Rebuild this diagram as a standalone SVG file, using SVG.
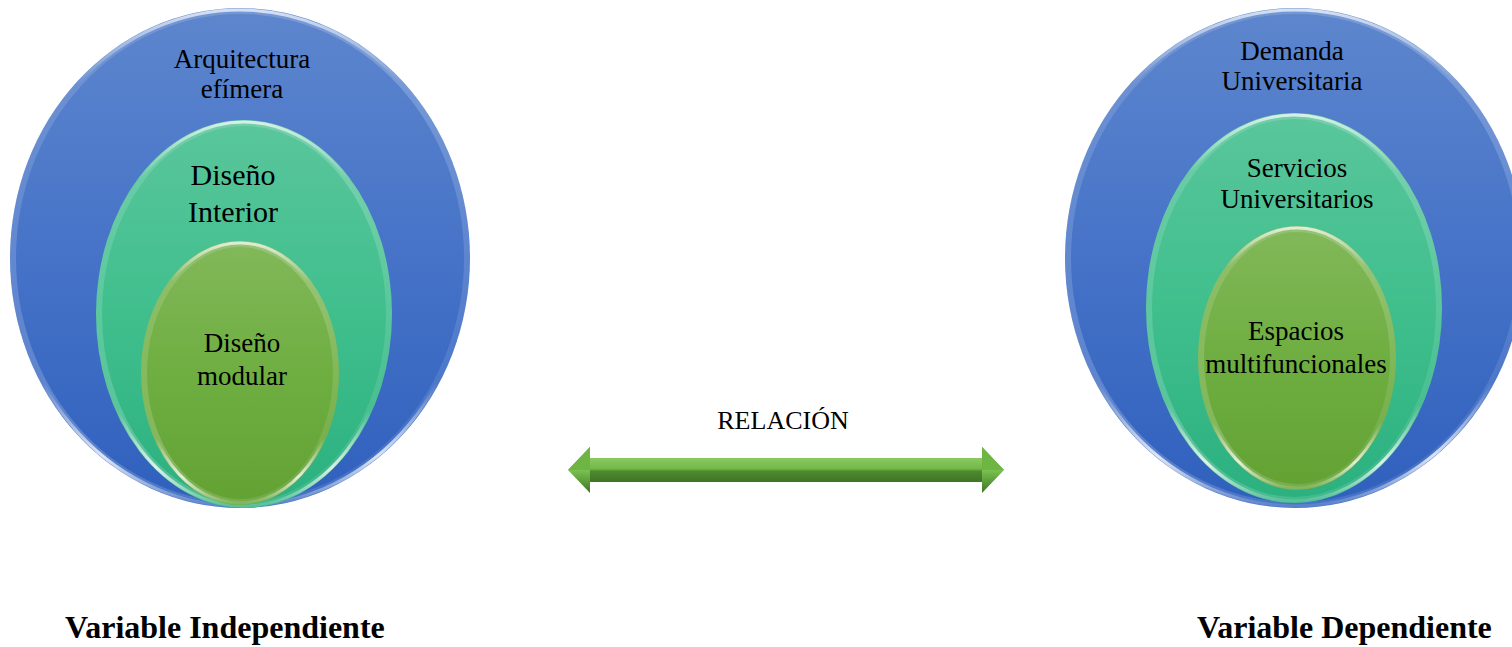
<svg xmlns="http://www.w3.org/2000/svg" width="1512" height="647" viewBox="0 0 1512 647">
  <defs>
    <linearGradient id="gBlue" x1="0" y1="0" x2="0" y2="1">
      <stop offset="0" stop-color="#5d86cd"/>
      <stop offset="0.5" stop-color="#4673c8"/>
      <stop offset="1" stop-color="#2f60bd"/>
    </linearGradient>
    <linearGradient id="gTeal" x1="0" y1="0" x2="0" y2="1">
      <stop offset="0" stop-color="#5ac69c"/>
      <stop offset="0.5" stop-color="#40bf8d"/>
      <stop offset="1" stop-color="#2bb07f"/>
    </linearGradient>
    <linearGradient id="gGreen" x1="0" y1="0" x2="0" y2="1">
      <stop offset="0" stop-color="#82b85a"/>
      <stop offset="0.5" stop-color="#6fae41"/>
      <stop offset="1" stop-color="#62a132"/>
    </linearGradient>
    <linearGradient id="rim" x1="0" y1="0" x2="1" y2="1">
      <stop offset="0" stop-color="#ffffff" stop-opacity="0.1"/>
      <stop offset="0.5" stop-color="#ffffff" stop-opacity="0.2"/>
      <stop offset="1" stop-color="#ffffff" stop-opacity="0.05"/>
    </linearGradient>
    <linearGradient id="rimTop" x1="0" y1="0" x2="0" y2="1">
      <stop offset="0" stop-color="#ffffff" stop-opacity="0.7"/>
      <stop offset="0.15" stop-color="#ffffff" stop-opacity="0"/>
      <stop offset="0.75" stop-color="#ffffff" stop-opacity="0"/>
      <stop offset="0.9" stop-color="#ffffff" stop-opacity="0.8"/>
      <stop offset="1" stop-color="#ffffff" stop-opacity="0.1"/>
    </linearGradient>
    <linearGradient id="gArrow" x1="0" y1="0" x2="0" y2="1">
      <stop offset="0" stop-color="#8bc862"/>
      <stop offset="0.45" stop-color="#72b847"/>
      <stop offset="0.55" stop-color="#4f8a2f"/>
      <stop offset="1" stop-color="#3f7424"/>
    </linearGradient>
    <linearGradient id="gHead" x1="0" y1="0" x2="0" y2="1">
      <stop offset="0" stop-color="#3e7425"/>
      <stop offset="0.5" stop-color="#7ac250"/>
      <stop offset="1" stop-color="#3e7425"/>
    </linearGradient>
  </defs>
  <style>
    .lbl { font-family: "Liberation Serif", "Times New Roman", serif; fill: #000; text-anchor: middle; }
    .s22 { font-size: 27px; }
    .s26 { font-size: 30px; }
    .rel { font-size: 26px; }
    .var { font-family: "Liberation Serif", "Times New Roman", serif; font-size: 32px; font-weight: bold; fill: #000; }
    .rimA { fill: none; stroke: url(#rimTop); stroke-width: 3; }
    .rimB { fill: none; stroke: url(#rim); stroke-width: 6; }
  </style>

  <!-- independent variable -->
  <g id="arquitectura-efimera">
    <ellipse cx="240" cy="258" rx="230" ry="250" fill="url(#gBlue)"/>
    <ellipse cx="240" cy="258" rx="227" ry="247" class="rimB"/>
    <ellipse cx="240" cy="258" rx="228" ry="248" class="rimA"/>
    <text class="lbl s22" x="242" y="68">Arquitectura</text>
    <text class="lbl s22" x="242" y="98">efímera</text>
  </g>
  <g id="diseno-interior">
    <ellipse cx="244" cy="314" rx="148" ry="194" fill="url(#gTeal)"/>
    <ellipse cx="244" cy="314" rx="145" ry="191" class="rimB"/>
    <ellipse cx="244" cy="314" rx="146" ry="192" class="rimA"/>
    <text class="lbl s26" x="233" y="185">Diseño</text>
    <text class="lbl s26" x="233" y="222">Interior</text>
  </g>
  <g id="diseno-modular">
    <ellipse cx="240" cy="373" rx="99" ry="132" fill="url(#gGreen)"/>
    <ellipse cx="240" cy="373" rx="96" ry="129" class="rimB"/>
    <ellipse cx="240" cy="373" rx="97" ry="130" class="rimA"/>
    <text class="lbl s22" x="242" y="352">Diseño</text>
    <text class="lbl s22" x="242" y="385">modular</text>
  </g>

  <!-- dependent variable -->
  <g id="demanda-universitaria">
    <ellipse cx="1295" cy="258" rx="230" ry="250" fill="url(#gBlue)"/>
    <ellipse cx="1295" cy="258" rx="227" ry="247" class="rimB"/>
    <ellipse cx="1295" cy="258" rx="228" ry="248" class="rimA"/>
    <text class="lbl s22" x="1292" y="60">Demanda</text>
    <text class="lbl s22" x="1292" y="90">Universitaria</text>
  </g>
  <g id="servicios-universitarios">
    <ellipse cx="1294" cy="308" rx="148" ry="195" fill="url(#gTeal)"/>
    <ellipse cx="1294" cy="308" rx="145" ry="192" class="rimB"/>
    <ellipse cx="1294" cy="308" rx="146" ry="193" class="rimA"/>
    <text class="lbl s22" x="1297" y="177">Servicios</text>
    <text class="lbl s22" x="1297" y="208">Universitarios</text>
  </g>
  <g id="espacios-multifuncionales">
    <ellipse cx="1297" cy="358" rx="99" ry="132" fill="url(#gGreen)"/>
    <ellipse cx="1297" cy="358" rx="96" ry="129" class="rimB"/>
    <ellipse cx="1297" cy="358" rx="97" ry="130" class="rimA"/>
    <text class="lbl s22" x="1296" y="340">Espacios</text>
    <text class="lbl s22" x="1296" y="373">multifuncionales</text>
  </g>

  <!-- relation connector -->
  <g id="connectors">
    <text class="lbl rel" x="783" y="429">RELACIÓN</text>
    <rect x="588" y="458" width="396" height="24" fill="url(#gArrow)"/>
    <polygon points="568,470 590,447 590,493" fill="url(#gHead)"/>
    <polygon points="568,470 590,447 590,470" fill="#6fb544"/>
    <polygon points="1004,470 982,447 982,493" fill="url(#gHead)"/>
    <polygon points="1004,470 982,447 982,470" fill="#6fb544"/>
  </g>

  <text class="var" x="65" y="638">Variable Independiente</text>
  <text class="var" x="1197" y="638">Variable Dependiente</text>
</svg>
